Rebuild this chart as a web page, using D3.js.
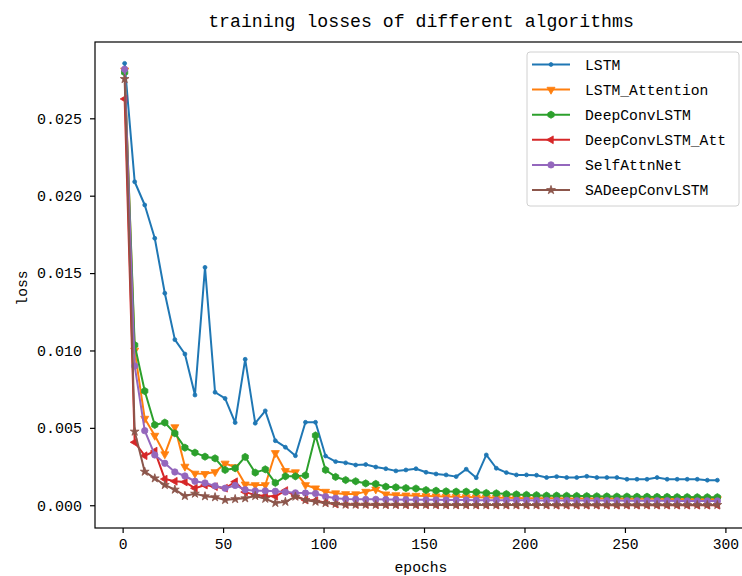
<!DOCTYPE html>
<html>
<head>
<meta charset="utf-8">
<script src="https://cdn.jsdelivr.net/npm/d3@7"></script>
<style>
  html, body { margin: 0; padding: 0; background: #fff; }
  svg { display: block; }
  text { font-family: "Liberation Mono", "DejaVu Sans Mono", monospace; fill: #000; }
</style>
</head>
<body>
<svg id="chart" width="742" height="576"></svg>
<script>
// ---------------- data ----------------
const epochs = [1,6,11,16,21,26,31,36,41,46,51,56,61,66,71,76,81,86,91,96,
  101,106,111,116,121,126,131,136,141,146,151,156,161,166,171,176,181,186,191,196,
  201,206,211,216,221,226,231,236,241,246,251,256,261,266,271,276,281,286,291,296];

const seriesNames = ["LSTM","LSTM_Attention","DeepConvLSTM","DeepConvLSTM_Att","SelfAttnNet","SADeepConvLSTM"];

const lstm = [0.02855,0.0209,0.0194,0.01725,0.0137,0.0107,0.00977,0.00712,0.01537,0.0073,
  0.0069,0.00534,0.00943,0.0053,0.0061,0.00417,0.00375,0.0032,0.00536,0.00536,
  0.00318,0.00282,0.00274,0.0026,0.00263,0.00247,0.00236,0.00222,0.00228,0.00236,
  0.00213,0.00202,0.00196,0.00185,0.00233,0.00178,0.00325,0.00239,0.00211,0.00196,
  0.00196,0.00194,0.00179,0.00185,0.00179,0.00179,0.00187,0.00179,0.00179,0.00179,
  0.00168,0.00168,0.00168,0.00179,0.00168,0.00168,0.00168,0.00168,0.00162,0.00162];

const lstmAttention = [0.0281,0.0100,0.0056,0.0045,0.0033,0.00505,0.0025,0.00205,0.00203,0.00215,
  0.0027,0.00247,0.00135,0.00131,0.00131,0.00338,0.00222,0.00214,0.00131,0.0011,
  0.00088,0.00078,0.00073,0.00072,0.00088,0.00103,0.00071,0.00066,0.00064,0.00062,
  0.0006,0.00058,0.00056,0.00055,0.00053,0.00052,0.0005,0.00049,0.00048,0.00047,
  0.00046,0.00046,0.00045,0.00045,0.00044,0.00044,0.00044,0.00043,0.00043,0.00043,
  0.00042,0.00042,0.00042,0.00042,0.00041,0.00041,0.00041,0.00041,0.0004,0.0004];

const deepConvLSTM = [0.02797,0.01035,0.00738,0.00519,0.00534,0.00465,0.00372,0.0034,0.00314,0.00303,
  0.00228,0.00239,0.00312,0.00211,0.00232,0.00145,0.00187,0.00187,0.00193,0.00451,
  0.00228,0.00183,0.00163,0.00155,0.00141,0.00138,0.0012,0.00116,0.00111,0.00108,
  0.00098,0.00094,0.0009,0.00088,0.00088,0.00085,0.00079,0.00077,0.00072,0.0007,
  0.00067,0.00065,0.00062,0.00062,0.00061,0.0006,0.00059,0.00058,0.00057,0.00056,
  0.00056,0.00055,0.00055,0.00054,0.00054,0.00053,0.00053,0.00052,0.00052,0.00052];

const deepConvLSTMAtt = [0.02625,0.00407,0.0032,0.0035,0.00169,0.00155,0.0015,0.0011,0.0013,0.0012,
  0.0011,0.00152,0.00085,0.00067,0.0006,0.00058,0.00095,0.0006,0.00034,0.0003,
  0.00017,0.00008,0.00006,0.00005,0.00005,0.00004,0.00004,0.00004,0.00003,0.00003,
  0.00003,0.00002,0.00002,0.00002,0.00002,0.00001,0.00001,0.00001,0.00001,0.00001,
  0.00001,0.00001,0.00001,0.0,0.0,0.0,0.0,0.0,0.0,0.0,
  0.0,0.0,0.0,0.0,0.0,0.0,0.0,0.0,0.0,0.0];

const selfAttnNet = [0.02817,0.009,0.00482,0.00325,0.00271,0.00215,0.00189,0.00155,0.00144,0.00125,
  0.0011,0.00128,0.001,0.00093,0.00093,0.0009,0.00085,0.0008,0.00079,0.00076,
  0.00056,0.00045,0.0004,0.00039,0.00038,0.00038,0.00037,0.00037,0.00036,0.00036,
  0.00035,0.00035,0.00034,0.00034,0.00034,0.00033,0.00033,0.00033,0.00032,0.00032,
  0.00032,0.00031,0.00031,0.00031,0.00031,0.0003,0.0003,0.0003,0.0003,0.0003,
  0.00029,0.00029,0.00029,0.00029,0.00029,0.00028,0.00028,0.00028,0.00028,0.00028];

const saDeepConvLSTM = [0.02754,0.00476,0.00217,0.00174,0.00131,0.00101,0.0006,0.00075,0.00058,0.00052,
  0.00034,0.0004,0.00045,0.0006,0.00042,0.00015,0.00022,0.00056,0.00034,0.00023,
  0.00014,0.00009,0.00004,0.00004,0.00004,0.00003,0.00003,0.00003,0.00003,0.00003,
  0.00003,0.00003,0.00002,0.00002,0.00002,0.00002,0.00002,0.00002,0.00002,0.00002,
  0.00002,0.00002,0.00002,0.00002,0.00002,0.00002,0.00002,0.00002,0.00002,0.00002,
  0.00002,0.00002,0.00002,0.00002,0.00002,0.00002,0.00002,0.00002,0.00002,0.00002];

const xTicks = [0, 50, 100, 150, 200, 250, 300];
const yTicks = [0.000, 0.005, 0.010, 0.015, 0.020, 0.025];

const titleText = "training losses of different algorithms";
const xLabel = "epochs";
const yLabel = "loss";

// ---------------- styling / layout ----------------
const colors = ["#1f77b4","#ff7f0e","#2ca02c","#d62728","#9467bd","#8c564b"];
const allValues = [lstm, lstmAttention, deepConvLSTM, deepConvLSTMAtt, selfAttnNet, saDeepConvLSTM];

const hexagon = {
  draw(ctx, size) {
    const r = Math.sqrt(size / (1.5 * Math.sqrt(3)));
    for (let i = 0; i < 6; i++) {
      const a = Math.PI / 2 + i * Math.PI / 3;
      const px = r * Math.cos(a), py = -r * Math.sin(a);
      if (i === 0) ctx.moveTo(px, py); else ctx.lineTo(px, py);
    }
    ctx.closePath();
  }
};
const markers = [
  {type: d3.symbolCircle, size: 12, rot: 0},
  {type: d3.symbolTriangle, size: 28, rot: 180},
  {type: hexagon, size: 34, rot: 0},
  {type: d3.symbolTriangle, size: 26, rot: -90},
  {type: d3.symbolCircle, size: 32, rot: 0},
  {type: d3.symbolStar, size: 24, rot: 0}
];

const L = 95, R = 747, T = 42, B = 528;
const x = d3.scaleLinear().domain([-13.75, 310.75]).range([L, R]);
const y = d3.scaleLinear().domain([-0.00147, 0.02993]).range([B, T]);

const svg = d3.select("#chart");
const plot = svg.append("g");

// series
const line = d3.line().x((d) => x(d[0])).y((d) => y(d[1]));
allValues.forEach((vals, si) => {
  const pts = epochs.map((e, i) => [e, vals[i]]);
  const g = plot.append("g");
  g.append("path").datum(pts)
    .attr("d", line)
    .attr("fill", "none")
    .attr("stroke", colors[si])
    .attr("stroke-width", 2)
    .attr("stroke-linejoin", "round")
    .attr("stroke-linecap", "butt");
  const m = markers[si];
  g.selectAll("path.m").data(pts).enter().append("path")
    .attr("class", "m")
    .attr("d", d3.symbol().type(m.type).size(m.size))
    .attr("transform", (d) => `translate(${x(d[0])},${y(d[1])}) rotate(${m.rot})`)
    .attr("fill", colors[si])
    .attr("stroke", colors[si])
    .attr("stroke-width", 0.8);
});

// axes frame
svg.append("rect")
  .attr("x", L).attr("y", T).attr("width", R - L).attr("height", B - T)
  .attr("fill", "none").attr("stroke", "#000").attr("stroke-width", 1.2);

// x axis
const xAxis = d3.axisBottom(x).tickValues(xTicks).tickFormat(d3.format("d")).tickSize(5).tickPadding(6);
const gx = svg.append("g").attr("transform", `translate(0,${B})`).call(xAxis);
gx.select(".domain").remove();
gx.selectAll("line").attr("stroke", "#000").attr("stroke-width", 1.2);
gx.selectAll("text").attr("font-size", "14.7px").attr("font-family", "Liberation Mono, DejaVu Sans Mono, monospace").attr("fill", "#000");

// y axis
const yAxis = d3.axisLeft(y).tickValues(yTicks).tickFormat(d3.format(".3f")).tickSize(5).tickPadding(8);
const gy = svg.append("g").attr("transform", `translate(${L},0)`).call(yAxis);
gy.select(".domain").remove();
gy.selectAll("line").attr("stroke", "#000").attr("stroke-width", 1.2);
gy.selectAll("text").attr("font-size", "15px").attr("font-family", "Liberation Mono, DejaVu Sans Mono, monospace").attr("fill", "#000");

// title & labels
svg.append("text").attr("x", 421).attr("y", 27).attr("text-anchor", "middle")
  .attr("font-size", "18.2px").text(titleText);
svg.append("text").attr("x", 421).attr("y", 572).attr("text-anchor", "middle")
  .attr("font-size", "14.7px").text(xLabel);
svg.append("text").attr("transform", "translate(27,288) rotate(-90)").attr("text-anchor", "middle")
  .attr("font-size", "14.7px").text(yLabel);

// legend
const lg = svg.append("g");
lg.append("rect").attr("x", 527).attr("y", 52).attr("width", 212).attr("height", 154)
  .attr("rx", 3).attr("fill", "#fff").attr("fill-opacity", 0.8)
  .attr("stroke", "#d0d0d0").attr("stroke-width", 1);
seriesNames.forEach((name, si) => {
  const yy = 64.5 + si * 25.1;
  lg.append("line").attr("x1", 532).attr("x2", 570).attr("y1", yy).attr("y2", yy)
    .attr("stroke", colors[si]).attr("stroke-width", 2);
  const m = markers[si];
  lg.append("path").attr("d", d3.symbol().type(m.type).size(m.size))
    .attr("transform", `translate(551,${yy}) rotate(${m.rot})`)
    .attr("fill", colors[si]).attr("stroke", colors[si]).attr("stroke-width", 0.8);
  lg.append("text").attr("x", 585).attr("y", yy + 5.2).attr("font-size", "14.7px").text(name);
});
</script>
</body>
</html>
